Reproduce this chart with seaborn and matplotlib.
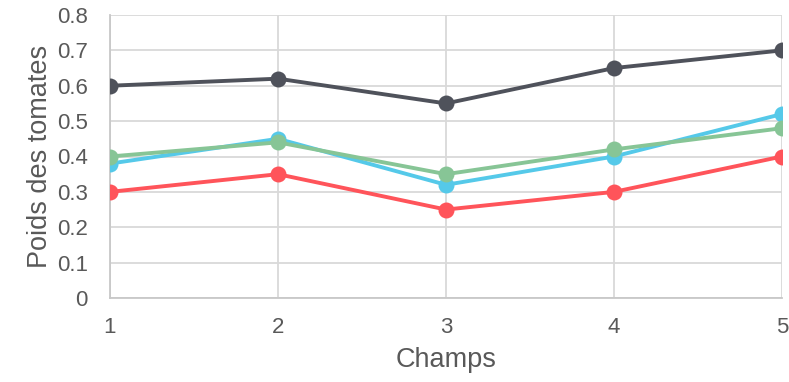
import matplotlib
matplotlib.use("Agg")
import matplotlib.pyplot as plt
import seaborn as sns
import pandas as pd

champs = [1, 2, 3, 4, 5]
serie_grise = [0.60, 0.62, 0.55, 0.65, 0.70]
serie_bleue = [0.38, 0.45, 0.32, 0.40, 0.52]
serie_verte = [0.40, 0.44, 0.35, 0.42, 0.48]
serie_rouge = [0.30, 0.35, 0.25, 0.30, 0.40]

noms = ["Série 1", "Série 2", "Série 3", "Série 4"]
valeurs = [serie_grise, serie_bleue, serie_verte, serie_rouge]
couleurs = ["#4f525b", "#55c9e9", "#87c596", "#ff545a"]

df = pd.DataFrame(
    [(c, v, n) for n, vals in zip(noms, valeurs) for c, v in zip(champs, vals)],
    columns=["Champs", "Poids", "Série"],
)

sns.set_theme(style="white")
plt.rcParams["font.family"] = ["Liberation Sans", "DejaVu Sans"]

fig = plt.figure(figsize=(7.89, 3.82), dpi=100)
ax = fig.add_axes([110 / 789, 1 - 298 / 382, 672 / 789, 283 / 382])

sns.lineplot(
    data=df, x="Champs", y="Poids", hue="Série", hue_order=noms,
    palette=couleurs, marker="o", markersize=11.5, markeredgewidth=0,
    linewidth=2.8, legend=False, ax=ax, zorder=3,
)

ax.set_xlim(1, 5)
ax.set_ylim(0, 0.8)
ax.set_xticks(champs)
ax.set_xticklabels([str(c) for c in champs])
ax.set_yticks([0, 0.1, 0.2, 0.3, 0.4, 0.5, 0.6, 0.7, 0.8])
ax.set_yticklabels(["0", "0.1", "0.2", "0.3", "0.4", "0.5", "0.6", "0.7", "0.8"])

ax.grid(True, color="#d9d9d9", linewidth=1.3, zorder=0)
ax.set_axisbelow(True)
for s in ["top", "right"]:
    ax.spines[s].set_visible(False)
for s in ["left", "bottom"]:
    ax.spines[s].set_color("#c8c8c8")
    ax.spines[s].set_linewidth(1.3)

ax.tick_params(axis="both", length=0, labelsize=16, labelcolor="#595959")
ax.tick_params(axis="x", pad=14)
ax.tick_params(axis="y", pad=16)

ax.set_xlabel("Champs", fontsize=19.5, color="#595959", labelpad=6)
ax.set_ylabel("Poids des tomates", fontsize=19.5, color="#595959", labelpad=3)

fig.savefig("out.png", dpi=100)
